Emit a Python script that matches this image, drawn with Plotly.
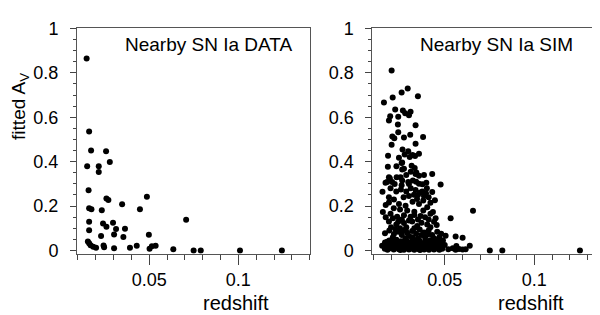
import numpy as np
import plotly.graph_objects as go

# ---------------- data ----------------
data_z = [0.0149, 0.0163, 0.0174, 0.0258, 0.0152, 0.0217, 0.0279, 0.0217, 0.0160, 0.0163,
          0.0176, 0.0234, 0.0260, 0.0271, 0.0348, 0.0487, 0.0448, 0.0707, 0.0163, 0.0163,
          0.0241, 0.0260, 0.0297, 0.0314, 0.0364, 0.0303, 0.0355, 0.0230, 0.0498, 0.0156,
          0.0163, 0.0171, 0.0186, 0.0202, 0.0244, 0.0247, 0.0303, 0.0392, 0.0430, 0.0502,
          0.0515, 0.0536, 0.0635, 0.0749, 0.0789, 0.1009, 0.1244]
data_av = [0.865, 0.536, 0.450, 0.447, 0.379, 0.379, 0.398, 0.354, 0.271, 0.190,
           0.186, 0.181, 0.234, 0.227, 0.208, 0.242, 0.186, 0.138, 0.129, 0.091,
           0.122, 0.107, 0.125, 0.097, 0.098, 0.072, 0.061, 0.065, 0.071, 0.041,
           0.033, 0.024, 0.017, 0.013, 0.023, 0.015, 0.010, 0.013, 0.021, 0.008,
           0.019, 0.021, 0.006, 0.000, 0.000, 0.000, 0.000]

sim_pts = [
    # high values
    (0.0203, 0.810), (0.0160, 0.666), (0.0209, 0.689), (0.0259, 0.712), (0.0293, 0.729), (0.0350, 0.695),
    (0.0223, 0.635), (0.0266, 0.630), (0.0309, 0.625), (0.0279, 0.618), (0.0300, 0.609), (0.0195, 0.605),
    (0.0240, 0.602), (0.0188, 0.585), (0.0337, 0.564), (0.0238, 0.567), (0.0240, 0.532), (0.0207, 0.513),
    (0.0218, 0.506), (0.0272, 0.509), (0.0307, 0.521), (0.0379, 0.511), (0.0203, 0.476), (0.0337, 0.481),
    (0.0264, 0.455), (0.0296, 0.447), (0.0183, 0.427), (0.0244, 0.418), (0.0276, 0.432), (0.0304, 0.421),
    (0.0320, 0.430), (0.0334, 0.426), (0.0356, 0.436), (0.0262, 0.396), (0.0230, 0.379), (0.0272, 0.368),
    (0.0332, 0.371), (0.0182, 0.377), (0.0259, 0.394), (0.0315, 0.382), (0.0262, 0.365),
    # 0.30 - 0.36
    (0.0341, 0.351), (0.0337, 0.344), (0.0356, 0.337), (0.0384, 0.340), (0.0430, 0.344),
    (0.0188, 0.330), (0.0193, 0.325), (0.0231, 0.330), (0.0253, 0.330), (0.0262, 0.315),
    (0.0178, 0.308), (0.0169, 0.305), (0.0206, 0.308), (0.0220, 0.300), (0.0259, 0.294),
    (0.0296, 0.308), (0.0322, 0.315), (0.0356, 0.301), (0.0397, 0.305), (0.0477, 0.297),
    (0.0300, 0.300), (0.0340, 0.310), (0.0375, 0.298), (0.0310, 0.355), (0.0285, 0.340),
    # 0.2 - 0.3
    (0.0152, 0.265), (0.0197, 0.280), (0.0229, 0.266), (0.0285, 0.266), (0.0337, 0.273),
    (0.0374, 0.266), (0.0430, 0.263), (0.0255, 0.275), (0.0310, 0.280), (0.0400, 0.280),
    (0.0360, 0.260), (0.0300, 0.245), (0.0328, 0.251), (0.0384, 0.245), (0.0350, 0.250),
    (0.0188, 0.240), (0.0216, 0.230), (0.0270, 0.240), (0.0410, 0.240), (0.0445, 0.226),
    (0.0188, 0.216), (0.0244, 0.209), (0.0281, 0.202), (0.0356, 0.209), (0.0402, 0.195),
    (0.0320, 0.220), (0.0380, 0.225), (0.0420, 0.215), (0.0170, 0.205), (0.0395, 0.258),
    (0.0345, 0.232),
    # 0.1 - 0.2
    (0.0154, 0.173), (0.0197, 0.166), (0.0234, 0.152), (0.0272, 0.159), (0.0309, 0.152),
    (0.0365, 0.155), (0.0434, 0.173), (0.0449, 0.145), (0.0533, 0.145), (0.0658, 0.179),
    (0.0188, 0.131), (0.0229, 0.117), (0.0272, 0.124), (0.0318, 0.131), (0.0346, 0.110),
    (0.0402, 0.117), (0.0250, 0.185), (0.0290, 0.180), (0.0330, 0.175), (0.0380, 0.180),
    (0.0420, 0.165), (0.0215, 0.190), (0.0260, 0.140), (0.0300, 0.135), (0.0350, 0.140),
    (0.0390, 0.150), (0.0440, 0.130), (0.0210, 0.145), (0.0170, 0.150), (0.0285, 0.105),
    (0.0370, 0.125), (0.0420, 0.105), (0.0455, 0.115), (0.0200, 0.105), (0.0240, 0.130),
    (0.0330, 0.160), (0.0410, 0.140),
    # 0.05 - 0.1
    (0.0166, 0.078), (0.0216, 0.074), (0.0281, 0.095), (0.0318, 0.088), (0.0384, 0.081),
    (0.0458, 0.084), (0.0505, 0.067), (0.0561, 0.063), (0.0600, 0.057), (0.0190, 0.090),
    (0.0240, 0.085), (0.0260, 0.070), (0.0300, 0.065), (0.0340, 0.075), (0.0360, 0.095),
    (0.0410, 0.090), (0.0430, 0.070), (0.0470, 0.060), (0.0250, 0.100), (0.0330, 0.100),
    (0.0390, 0.060), (0.0210, 0.060), (0.0280, 0.055), (0.0350, 0.055), (0.0440, 0.055),
    (0.0480, 0.075), (0.0370, 0.070), (0.0290, 0.080), (0.0225, 0.095), (0.0318, 0.060),
    (0.0405, 0.072), (0.0265, 0.088),
    # 0.03 - 0.05
    (0.0166, 0.036), (0.0234, 0.031), (0.0281, 0.046), (0.0337, 0.041), (0.0402, 0.038),
    (0.0468, 0.036), (0.0190, 0.045), (0.0210, 0.040), (0.0255, 0.042), (0.0300, 0.035),
    (0.0320, 0.048), (0.0360, 0.044), (0.0380, 0.033), (0.0420, 0.046), (0.0440, 0.040),
    (0.0490, 0.045), (0.0270, 0.030), (0.0350, 0.030), (0.0230, 0.048), (0.0245, 0.038),
    (0.0292, 0.040), (0.0310, 0.032), (0.0348, 0.047), (0.0392, 0.045), (0.0430, 0.034),
    (0.0455, 0.047), (0.0178, 0.040), (0.0200, 0.034),
    # ~0.02
    (0.0150, 0.022), (0.0175, 0.025), (0.0188, 0.017), (0.0205, 0.022), (0.0220, 0.028),
    (0.0244, 0.020), (0.0262, 0.024), (0.0283, 0.018), (0.0300, 0.026), (0.0318, 0.020),
    (0.0335, 0.025), (0.0356, 0.018), (0.0372, 0.024), (0.0390, 0.020), (0.0410, 0.026),
    (0.0428, 0.019), (0.0445, 0.024), (0.0462, 0.018), (0.0480, 0.022), (0.0640, 0.021),
    (0.0565, 0.020), (0.0500, 0.025), (0.0232, 0.020), (0.0272, 0.028), (0.0292, 0.022),
    (0.0345, 0.020), (0.0380, 0.028), (0.0400, 0.016), (0.0438, 0.028), (0.0470, 0.026),
    # ~0.005
    (0.0165, 0.008), (0.0180, 0.004), (0.0198, 0.010), (0.0215, 0.005), (0.0230, 0.012),
    (0.0244, 0.006), (0.0258, 0.010), (0.0272, 0.004), (0.0288, 0.011), (0.0300, 0.005),
    (0.0315, 0.009), (0.0330, 0.004), (0.0345, 0.010), (0.0356, 0.006), (0.0370, 0.012),
    (0.0385, 0.005), (0.0400, 0.009), (0.0412, 0.004), (0.0425, 0.011), (0.0440, 0.005),
    (0.0455, 0.010), (0.0470, 0.004), (0.0486, 0.008), (0.0520, 0.006), (0.0545, 0.010),
    (0.0561, 0.004), (0.0580, 0.007), (0.0600, 0.005), (0.0617, 0.006), (0.0752, 0.000),
    (0.0822, 0.000), (0.1256, 0.000), (0.0208, 0.013), (0.0252, 0.002), (0.0322, 0.013),
    (0.0362, 0.002), (0.0418, 0.013), (0.0478, 0.012),
]
sim_z = [p[0] for p in sim_pts]
sim_av = [p[1] for p in sim_pts]

x_tickvals = [0.05, 0.1]
x_ticktext = ["0.05", "0.1"]
y_tickvals = [0, 0.2, 0.4, 0.6, 0.8, 1.0]
y_ticktext = ["0", "0.2", "0.4", "0.6", "0.8", "1"]
panel_titles = ["Nearby SN Ia DATA", "Nearby SN Ia SIM"]

FONT = "Liberation Sans, Arial, Helvetica, sans-serif"
W, H = 600, 315

fig = go.Figure()
marker = dict(color="black", size=6, line=dict(width=0))
fig.add_trace(go.Scatter(x=data_z, y=data_av, mode="markers", marker=marker,
                         xaxis="x", yaxis="y", showlegend=False))
fig.add_trace(go.Scatter(x=sim_z, y=sim_av, mode="markers", marker=marker,
                         xaxis="x2", yaxis="y2", showlegend=False))

x_minor = list(np.round(np.arange(0.01, 0.1401, 0.01), 3))
y_minor = list(np.round(np.arange(0.0, 1.0001, 0.05), 3))

def xax(domain, anchor):
    return dict(domain=domain, anchor=anchor, range=[0.0095, 0.14],
                showline=True, mirror=True, linecolor="#555555", linewidth=1,
                showgrid=False, zeroline=False,
                tickmode="array", tickvals=x_tickvals, ticktext=x_ticktext,
                ticks="outside", ticklen=10, tickwidth=1, tickcolor="#444444",
                ticklabelstandoff=0,
                tickfont=dict(family=FONT, size=18, color="black"),
                minor=dict(tickmode="array", tickvals=x_minor, ticks="outside",
                           ticklen=5, tickwidth=1, tickcolor="#444444", showgrid=False))

def yax(domain, anchor):
    return dict(domain=domain, anchor=anchor, range=[-0.015, 1.0],
                showline=True, mirror=True, linecolor="#555555", linewidth=1,
                showgrid=False, zeroline=False,
                tickmode="array", tickvals=y_tickvals, ticktext=y_ticktext,
                ticks="outside", ticklen=6, tickwidth=1, tickcolor="#444444",
                ticklabelstandoff=8,
                tickfont=dict(family=FONT, size=18, color="black"),
                minor=dict(tickmode="array", tickvals=y_minor, ticks="outside",
                           ticklen=3, tickwidth=1, tickcolor="#444444", showgrid=False))

ydom = [1 - 249.3 / H, 1 - 11 / H]
fig.update_layout(
    width=W, height=H,
    margin=dict(l=0, r=0, t=0, b=0),
    paper_bgcolor="white", plot_bgcolor="white",
    xaxis=xax([69 / W, 301.7 / W], "y"),
    yaxis=yax(ydom, "x"),
    xaxis2=xax([364.3 / W, 597.7 / W], "y2"),
    yaxis2=yax(ydom, "x2"),
    font=dict(family=FONT, color="black"),
)

ann = []
ann.append(dict(text=panel_titles[0], x=200.5 / W, y=1 - 28 / H, xref="paper", yref="paper",
                xanchor="center", yanchor="middle", showarrow=False,
                font=dict(family=FONT, size=19, color="black")))
ann.append(dict(text=panel_titles[1], x=488.3 / W, y=1 - 28 / H, xref="paper", yref="paper",
                xanchor="center", yanchor="middle", showarrow=False,
                font=dict(family=FONT, size=19, color="black")))
for cx in (228 / W, 523 / W):
    ann.append(dict(text="redshift", x=cx, y=1 - 301 / H, xref="paper", yref="paper",
                    xanchor="center", yanchor="middle", showarrow=False,
                    font=dict(family=FONT, size=20, color="black")))
ann.append(dict(text="fitted A<sub>V</sub>", x=12 / W, y=1 - 94 / H, xref="paper", yref="paper",
                xanchor="center", yanchor="middle", textangle=-90, showarrow=False,
                font=dict(family=FONT, size=19, color="black")))
fig.update_layout(annotations=ann)

fig.write_html("out.html")
